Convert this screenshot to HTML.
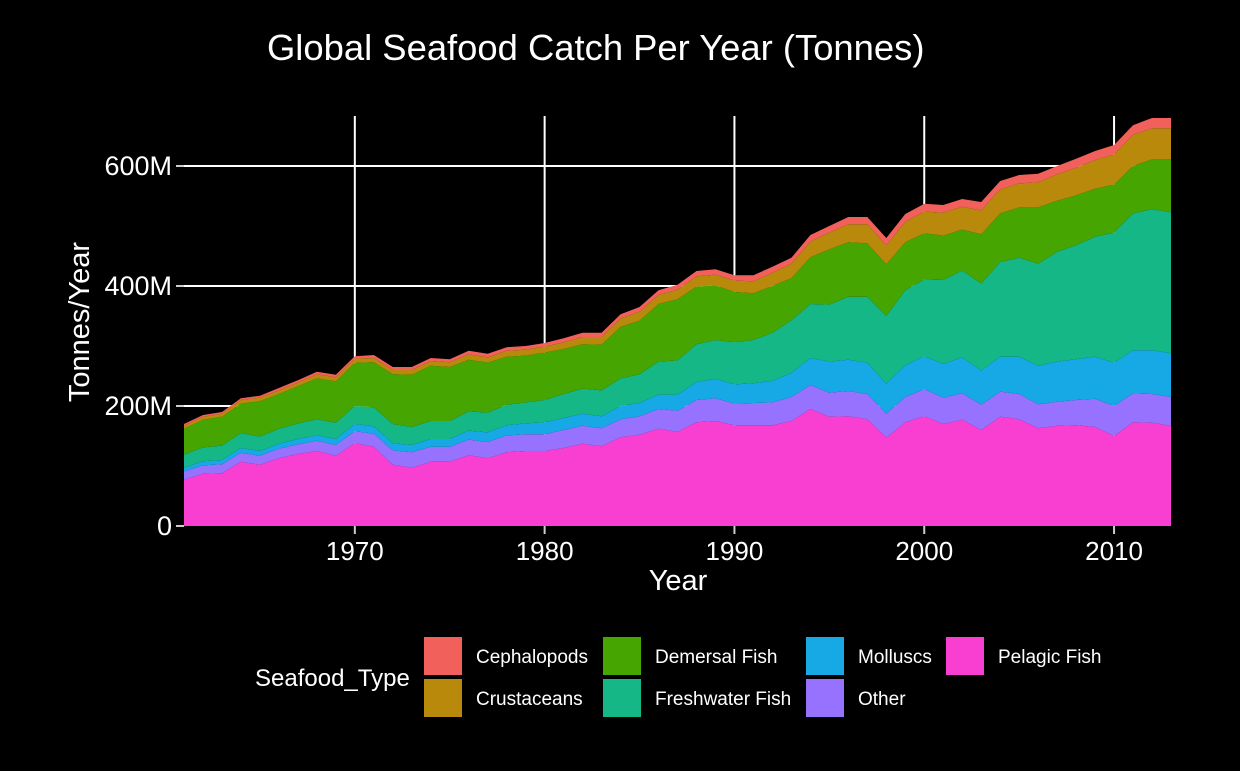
<!DOCTYPE html>
<html><head><meta charset="utf-8"><style>
body{margin:0;background:#000;}
svg text{font-family:"Liberation Sans",sans-serif;fill:#fff;}
</style></head><body>
<svg id="chart" width="1240" height="766" xmlns="http://www.w3.org/2000/svg">
<rect width="1240" height="766" fill="#000"/>
<g id="grid"></g>
<g id="areas"></g>
<g id="axes"></g>
<text x="267" y="60" font-size="36.4">Global Seafood Catch Per Year (Tonnes)</text>
<text x="678" y="590" font-size="29" text-anchor="middle">Year</text>
<text transform="translate(89,322) rotate(-90)" font-size="29" text-anchor="middle">Tonnes/Year</text>
<g id="legend">
<text x="255" y="686" font-size="24">Seafood_Type</text>
</g>
</svg>
<script>
const years = [];
for (let y = 1961; y <= 2013; y++) years.push(y);
const seriesNames = ["Pelagic Fish","Other","Molluscs","Freshwater Fish","Demersal Fish","Crustaceans","Cephalopods"];
const pelagic = [77,87,88,107,102,113,120,125,117,138,132,102,97,107,107,118,113,123,125,125,130,137,133,148,152,162,157,173,175,168,168,168,175,195,182,183,178,147,173,183,170,177,160,182,178,163,167,168,165,150,173,172,167];
const other = [14,14,15,15,15,16,16,17,18,20,22,24,26,25,25,26,27,28,28,28,30,30,30,30,31,33,35,37,38,36,37,38,40,40,40,42,42,40,42,45,44,44,42,42,42,40,40,42,47,50,48,48,48];
const molluscs = [6,7,7,8,8,8,9,9,10,12,12,12,12,13,13,15,16,17,18,20,20,20,20,22,22,24,27,30,32,32,33,36,40,45,52,52,52,50,53,55,56,60,57,58,62,64,67,68,70,72,72,73,73];
const freshwater = [22,23,24,25,24,25,26,27,27,30,32,32,30,30,30,32,33,34,35,37,40,42,43,46,48,55,57,63,65,70,72,80,88,90,95,105,110,113,125,128,140,145,145,158,165,170,183,190,200,217,228,235,235];
const demersal = [43,46,48,49,59,58,62,68,69,72,75,83,87,92,90,86,83,80,78,79,75,74,76,86,89,96,102,96,91,84,78,78,70,78,92,91,89,86,80,77,74,68,82,81,84,94,85,83,80,80,79,83,88];
const crustaceans = [5,5,5,6,6,6,6,7,7,7,7,7,8,8,8,9,9,10,10,10,11,12,13,14,15,15,16,17,18,19,20,22,24,26,28,30,32,32,34,36,38,38,40,40,40,42,44,46,48,50,52,52,52];
const cephalopods = [3,3,3,3,3,4,4,4,4,4,5,5,5,5,5,6,6,6,6,6,7,7,7,7,8,8,8,9,9,9,10,10,10,11,11,12,12,12,13,13,13,13,14,14,14,14,14,15,15,16,16,17,17];
const yTicks = [0,200,400,600];
const yTickLabels = ["0","200M","400M","600M"];
const xTicks = [1970,1980,1990,2000,2010];

const colors = ["#F93FD2","#9672FF","#17A9E6","#16B786","#47A502","#B8890A","#F2605C"];
const slugs = ["pelagic-fish","other","molluscs","freshwater-fish","demersal-fish","crustaceans","cephalopods"];
const allSeries = [pelagic,other,molluscs,freshwater,demersal,crustaceans,cephalopods];
const X0=184, X1=1171, Y0=526, PXM=0.6, TOP=116;
const xs = yr => X0 + (yr-1961)/(2013-1961)*(X1-X0);
const ys = v => Y0 - v*PXM;
const NS="http://www.w3.org/2000/svg";
function mk(tag, attrs, parent){const e=document.createElementNS(NS,tag);for(const k in attrs)e.setAttribute(k,attrs[k]);parent.appendChild(e);return e;}
const grid=document.getElementById('grid'), areas=document.getElementById('areas'), axes=document.getElementById('axes'), legend=document.getElementById('legend');
yTicks.forEach((t,i)=>{
  if(t>0){const l=mk('line',{x1:X0,x2:X1,y1:ys(t),y2:ys(t),stroke:'#fff','stroke-width':2},grid);
  
  }
  const tk=mk('line',{x1:X0-8,x2:X0,y1:ys(t),y2:ys(t),stroke:'#ccc','stroke-width':2},axes);
  
  
  const tx=mk('text',{x:X0-12,y:ys(t)+9,'font-size':27,'text-anchor':'end'},axes);
  tx.textContent=yTickLabels[i];
  
  
});
xTicks.forEach(t=>{
  const l=mk('line',{x1:xs(t),x2:xs(t),y1:TOP,y2:Y0,stroke:'#fff','stroke-width':2},grid);
  
  
  const tk=mk('line',{x1:xs(t),x2:xs(t),y1:Y0,y2:Y0+8,stroke:'#ccc','stroke-width':2},axes);
  
  
  const tx=mk('text',{x:xs(t),y:560,'font-size':26,'text-anchor':'middle'},axes);
  tx.textContent=t;
  
  
});
let base = years.map(()=>0);
allSeries.forEach((s,si)=>{
  const top = base.map((b,i)=>b+s[i]);
  let d='M'+years.map((y,i)=>xs(y).toFixed(1)+','+ys(top[i]).toFixed(1)).join('L');
  for(let i=years.length-1;i>=0;i--) d+='L'+xs(years[i]).toFixed(1)+','+ys(base[i]).toFixed(1);
  d+='Z';
  const p=mk('path',{d:d,fill:colors[si]},areas);
  
  
  base=top;
});
const legendOrder=[6,4,2,0,5,3,1];
const colX=[424,603,806,946];
legendOrder.forEach((si,k)=>{
  let c,r;
  if(k<4){c=k;r=0;}else{c=k-4;r=1;}
  const x=colX[c], y=r===0?637:679;
  const g=mk('g',{},legend);
  
  
  mk('rect',{x:x,y:y,width:38,height:38,fill:colors[si]},g);
  const t=mk('text',{x:x+52,y:y+26,'font-size':19},g);
  t.textContent=seriesNames[si];
});
</script>
</body></html>
